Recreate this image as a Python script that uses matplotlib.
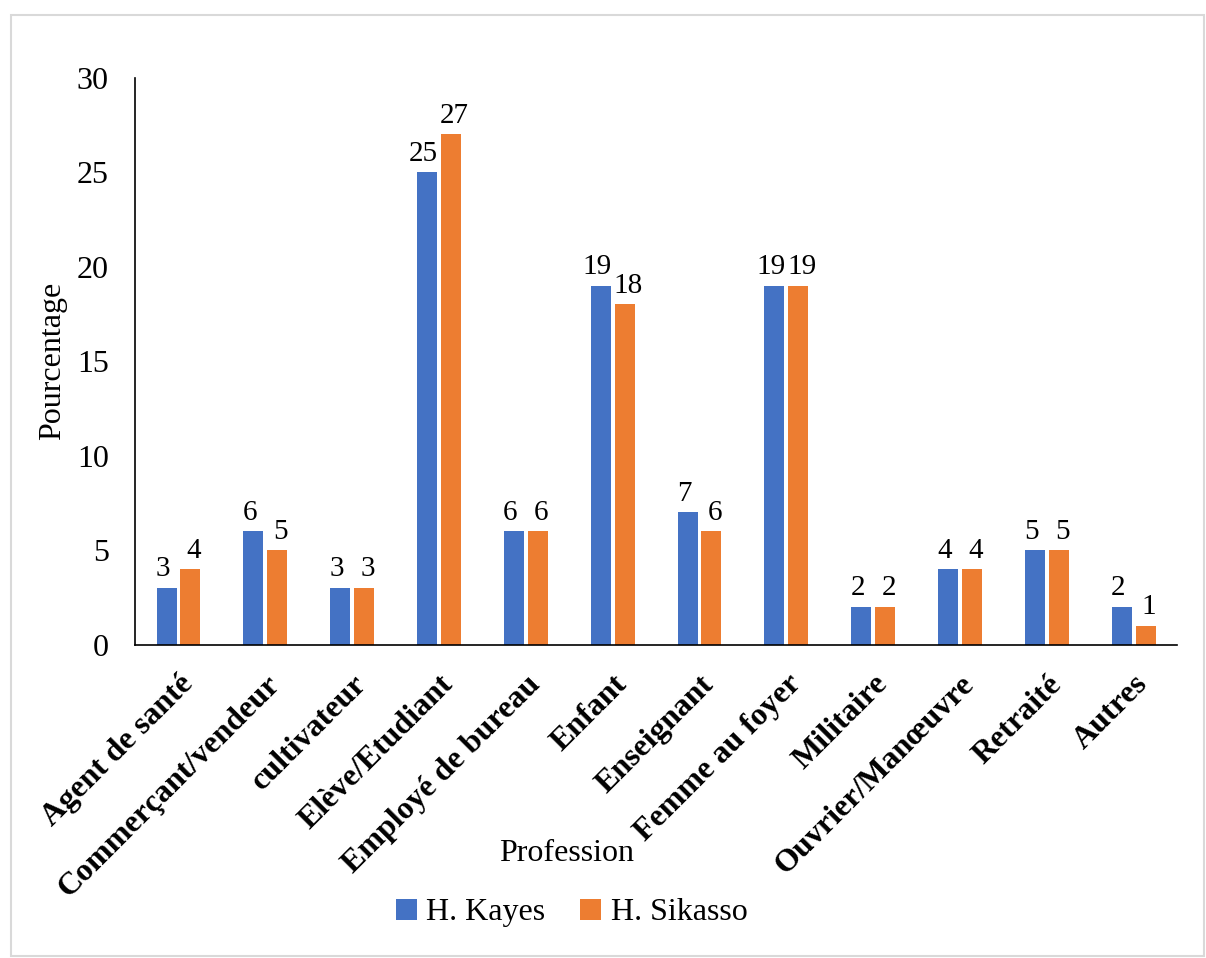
import matplotlib.pyplot as plt
import matplotlib.patches as patches
import numpy as np

professions = ['Agent de santé', 'Commerçant/vendeur', 'cultivateur', 'Elève/Etudiant',
               'Employé de bureau', 'Enfant', 'Enseignant', 'Femme au foyer',
               'Militaire', 'Ouvrier/Manœuvre', 'Retraité', 'Autres']
kayes = [3, 6, 3, 25, 6, 19, 7, 19, 2, 4, 5, 2]
sikasso = [4, 5, 3, 27, 6, 18, 6, 19, 2, 4, 5, 1]

plt.rcParams['font.family'] = ['Liberation Serif', 'DejaVu Serif']

fig = plt.figure(figsize=(12.06, 9.58), dpi=100)
ax = fig.add_axes([0.112, 0.327, 0.864, 0.592])

# light frame around the whole chart
fig.patches.append(patches.Rectangle((0.009, 0.002), 0.989, 0.982, transform=fig.transFigure,
                                     fill=False, edgecolor='#d9d9d9', linewidth=1.5))

x = np.arange(len(professions))
w = 0.23
b1 = ax.bar(x - w / 2 - 0.022, kayes, w, color='#4472c4', label='H. Kayes')
b2 = ax.bar(x + w / 2 + 0.022, sikasso, w, color='#ed7d31', label='H. Sikasso')

# value labels, nudged apart a little so "19 19" don't run into each other
for bars, dx in ((b1, -2.5), (b2, 2.5)):
    for bar in bars:
        h = bar.get_height()
        ax.annotate('%d' % h, (bar.get_x() + bar.get_width() / 2, h),
                    xytext=(dx, 4), textcoords='offset points',
                    ha='center', va='bottom', fontsize=21)

ax.set_xlim(-0.5, len(professions) - 0.5)
ax.set_ylim(0, 30)
ax.set_yticks(range(0, 31, 5))
ax.tick_params(axis='y', length=0, labelsize=23, pad=19)
ax.tick_params(axis='x', length=0, pad=18)
ax.set_xticks(x)
ax.set_xticklabels(professions, rotation=45, ha='right', rotation_mode='anchor',
                   fontsize=23, fontweight='bold')

for s in ['top', 'right']:
    ax.spines[s].set_visible(False)
ax.spines['left'].set_linewidth(1.2)
ax.spines['bottom'].set_linewidth(1.2)

ax.set_ylabel('Pourcentage', fontsize=23, labelpad=7)
fig.text(0.47, 0.109, 'Profession', ha='center', va='center', fontsize=23)

fig.legend(handles=[b1, b2], loc='center', bbox_to_anchor=(0.474, 0.047), ncol=2,
           frameon=False, fontsize=23, handlelength=0.65, handleheight=0.65,
           columnspacing=1.1, handletextpad=0.3)

fig.savefig('out.png', dpi=100)
